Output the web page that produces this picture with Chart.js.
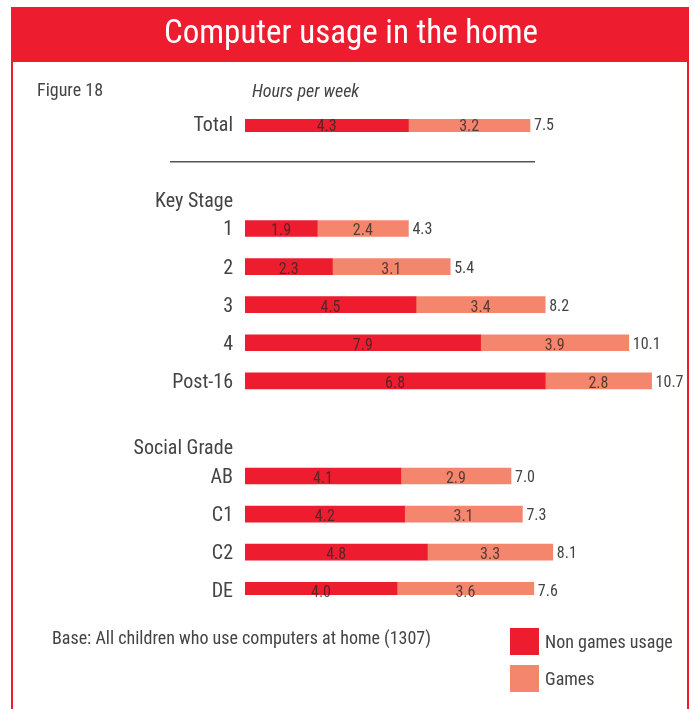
<!DOCTYPE html>
<html lang="en">
<head>
    <meta charset="UTF-8">
    <title>Computer usage in the home</title>
    <script src="https://cdnjs.cloudflare.com/ajax/libs/Chart.js/4.4.0/chart.umd.min.js"></script>
    <style>
        html, body { margin: 0; padding: 0; background: #fff; }
        #chart_parent { width: 695px; height: 709px; }
    </style>
</head>
<body>
<div id="chart_parent">
    <canvas id="myChart"></canvas>
</div>
<script>
    // rows of the chart (hours per week)
    var v_rows = ['Total', '1', '2', '3', '4', 'Post-16', 'AB', 'C1', 'C2', 'DE'];
    var v_headings = ['Key Stage', 'Social Grade'];
    // bar lengths as drawn in the picture
    var v_nonGames = [4.3, 1.9, 2.3, 4.5, 6.2, 7.9, 4.1, 4.2, 4.8, 4.0];
    var v_games = [3.2, 2.4, 3.1, 3.4, 3.9, 2.8, 2.9, 3.1, 3.3, 3.6];
    // numbers as printed on the bars (Key Stage 4 / Post-16 labels differ from the bar lengths in the source)
    var v_nonGamesText = ['4.3', '1.9', '2.3', '4.5', '7.9', '6.8', '4.1', '4.2', '4.8', '4.0'];
    var v_gamesText = ['3.2', '2.4', '3.1', '3.4', '3.9', '2.8', '2.9', '3.1', '3.3', '3.6'];
    var v_totalText = ['7.5', '4.3', '5.4', '8.2', '10.1', '10.7', '7.0', '7.3', '8.1', '7.6'];

    // layout: slot of each row on a fine category grid (4 slots per row)
    var v_rowSlot = [0, 11, 15, 19, 23, 27, 37, 41, 45, 49];
    var v_headSlot = [8, 34];
    var v_nSlots = 50;

    var RED = '#ed1c2e';
    var SALMON = '#f4866d';
    var TXT = '#444';
    var FONT = '"Liberation Sans Narrow", "Roboto Condensed", "DejaVu Sans Condensed", sans-serif';

    var v_labels = [], v_d1 = [], v_d2 = [];
    for (var i = 0; i < v_nSlots; i++) { v_labels.push(''); v_d1.push(null); v_d2.push(null); }
    v_rows.forEach(function (r, k) {
        v_labels[v_rowSlot[k]] = r;
        v_d1[v_rowSlot[k]] = v_nonGames[k];
        v_d2[v_rowSlot[k]] = v_games[k];
    });
    v_headings.forEach(function (h, k) { v_labels[v_headSlot[k]] = h; });

    var f_textPlugin = {
        id: 'pageText',
        beforeDraw: function (chart) {
            var c = chart.ctx;
            c.save();
            c.fillStyle = '#fff';
            c.fillRect(0, 0, chart.width, chart.height);
            // frame + header band
            c.fillStyle = RED;
            c.fillRect(11, 7, 678, 55);
            c.fillRect(11, 7, 2, 702);
            c.fillRect(687, 7, 2, 702);
            c.fillStyle = '#fff';
            c.font = '33px ' + FONT;
            c.textAlign = 'center';
            c.textBaseline = 'middle';
            c.fillText('Computer usage in the home', 351, 35);
            c.restore();
        },
        afterDatasetsDraw: function (chart) {
            var c = chart.ctx;
            var sy = chart.scales.y;
            var m1 = chart.getDatasetMeta(0), m2 = chart.getDatasetMeta(1);
            c.save();
            c.textBaseline = 'middle';
            // row labels and group headings
            c.fillStyle = TXT;
            c.textAlign = 'right';
            c.font = '20px ' + FONT;
            v_labels.forEach(function (l, k) {
                if (l) c.fillText(l, 233, sy.getPixelForValue(k) + 2);
            });
            c.font = '16px ' + FONT;
            v_rows.forEach(function (r, k) {
                var e1 = m1.data[v_rowSlot[k]], e2 = m2.data[v_rowSlot[k]];
                c.fillStyle = 'rgba(50,40,40,0.8)';
                c.textAlign = 'center';
                c.fillText(v_nonGamesText[k], (e1.x + e1.base) / 2, e1.y + 3);
                c.fillText(v_gamesText[k], (e2.x + e2.base) / 2, e2.y + 3);
                c.fillStyle = TXT;
                c.textAlign = 'left';
                c.fillText(v_totalText[k], e2.x + 4, e2.y + 2);
            });
            // separator under Total
            var ys = sy.getPixelForValue(4);
            c.strokeStyle = '#555';
            c.lineWidth = 1.5;
            c.beginPath();
            c.moveTo(170, ys);
            c.lineTo(535, ys);
            c.stroke();

            c.fillStyle = TXT;
            c.textAlign = 'left';
            c.font = '18px ' + FONT;
            c.fillText('Figure 18', 37, 91);
            c.font = 'italic 18px ' + FONT;
            c.fillText('Hours per week', 252, 92);
            c.font = '18px ' + FONT;
            c.fillText('Base: All children who use computers at home (1307)', 52, 639);
            // legend
            c.fillStyle = RED;
            c.fillRect(510, 628, 29, 27);
            c.fillStyle = SALMON;
            c.fillRect(510, 665, 29, 27);
            c.fillStyle = TXT;
            c.font = '18px ' + FONT;
            c.fillText('Non games usage', 545, 643);
            c.fillText('Games', 545, 680);
            c.restore();
        }
    };

    const ctx = document.getElementById('myChart').getContext('2d');
    const myChart = new Chart(ctx, {
        type: 'bar',
        data: {
            labels: v_labels,
            datasets: [{
                label: 'Non games usage',
                data: v_d1,
                backgroundColor: RED,
                barThickness: 16
            }, {
                label: 'Games',
                data: v_d2,
                backgroundColor: SALMON,
                barThickness: 16
            }]
        },
        plugins: [f_textPlugin],
        options: {
            indexAxis: 'y',
            responsive: true,
            maintainAspectRatio: false,
            animation: false,
            layout: { padding: { top: 119, bottom: 114, right: 32, left: 0 } },
            plugins: { legend: { display: false }, tooltip: { enabled: false } },
            scales: {
                x: {
                    stacked: true,
                    min: 0,
                    max: 11,
                    display: false
                },
                y: {
                    stacked: true,
                    grid: { display: false, drawTicks: false },
                    border: { display: false },
                    afterFit: function (s) { s.width = 245; },
                    ticks: { display: false, autoSkip: false }
                }
            }
        }
    });
</script>
</body>
</html>
